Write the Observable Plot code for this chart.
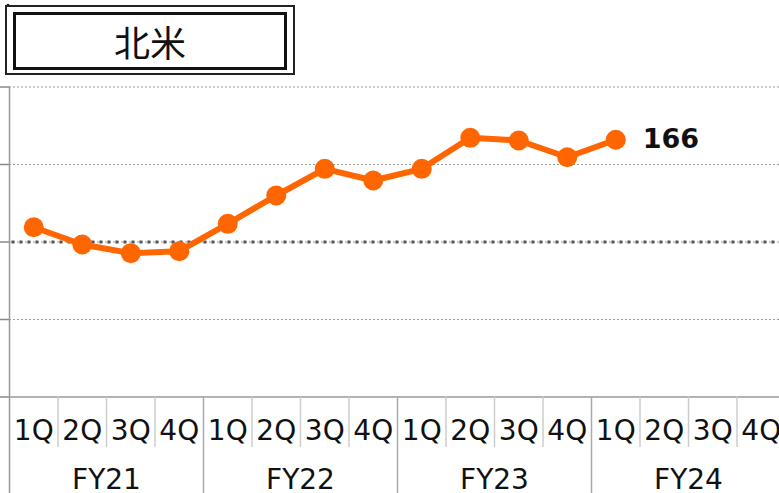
<!DOCTYPE html>
<html>
<head>
<meta charset="utf-8">
<script src="https://cdn.jsdelivr.net/npm/d3@7"></script>
<script src="https://cdn.jsdelivr.net/npm/@observablehq/plot@0.6"></script>
<style>
  html, body { margin: 0; padding: 0; background: #fff; }
  #wrap { position: relative; width: 779px; height: 493px; overflow: hidden; }
  #title { position: absolute; left: 5px; top: 5px; width: 290px; height: 70px; box-sizing: border-box;
           border: 2px solid #222; padding: 5px 6px 3px 6px; background: #fff; }
  #title .inner { box-sizing: border-box; width: 100%; height: 100%; border: 3px solid #111;
           display: flex; align-items: center; justify-content: center;
           font-family: "Noto Sans CJK JP", sans-serif; font-size: 36px; color: #111; }
  #chart { position: absolute; left: 0; top: 0; }
</style>
</head>
<body>
<div id="wrap">
  <div id="chart"></div>
  <div id="title"><div class="inner">北米</div></div>
</div>
<script>
const title = "北米";
const quarters = ["1Q","2Q","3Q","4Q","1Q","2Q","3Q","4Q","1Q","2Q","3Q","4Q","1Q","2Q","3Q","4Q"];
const years = ["FY21","FY22","FY23","FY24"];
const values = [109.5, 98.4, 92.8, 94.1, 111.7, 130, 147.2, 139.7, 147.2, 167.2, 165.5, 154.7, 166];
const lastLabel = "166";
const gridValues = [50, 150, 200];
const baseValue = 100;

const pts = values.map((v, i) => ({i: i + 0.5, v}));
const qLabels = quarters.map((q, i) => ({i: i + 0.5, q}));
const yLabels = years.map((y, k) => ({i: k * 4 + 2, y}));
const qSeps = d3.range(1, quarters.length).filter(i => i % 4 !== 0);
const ySeps = d3.range(0, quarters.length + 1, 4);

const chart = Plot.plot({
  width: 779,
  height: 493,
  marginTop: 86.5,
  marginBottom: 96.5,
  marginLeft: 9,
  marginRight: 0,
  x: {type: "linear", domain: [0, quarters.length], range: [9, 785], axis: null},
  y: {domain: [0, 200], axis: null},
  style: {fontFamily: "DejaVu Sans, Verdana, sans-serif", background: "#fff", overflow: "visible"},
  marks: [
    Plot.ruleY(gridValues, {stroke: "#999", strokeWidth: 1, strokeDasharray: "2,2"}),
    Plot.ruleY([baseValue], {stroke: "#999", strokeWidth: 1, strokeDasharray: "2,2"}),
    Plot.ruleY([baseValue], {x1: 0.05, x2: quarters.length, stroke: "#555", strokeWidth: 3, strokeDasharray: "3,5"}),
    Plot.axisY({ticks: [0, 50, 100, 150, 200], tickSize: 9, tickFormat: () => "", stroke: "#888", strokeWidth: 1.5}),
    Plot.ruleY([0], {stroke: "#999", strokeWidth: 1.5}),
    Plot.ruleX([0], {y1: 200, y2: -62.5, stroke: "#999", strokeWidth: 1.5}),
    Plot.ruleX(ySeps.filter(d => d > 0), {y1: 0, y2: -62.5, stroke: "#aaa", strokeWidth: 1.5}),
    Plot.ruleX(qSeps, {y1: 0, y2: -32.6, stroke: "#ccc", strokeWidth: 1.5}),
    Plot.text(qLabels, {x: "i", y: 0, text: "q", dy: 34, fontSize: 28, fill: "#111"}),
    Plot.text(yLabels, {x: "i", y: 0, text: "y", dy: 83, fontSize: 28, fill: "#111"}),
    Plot.line(pts, {x: "i", y: "v", stroke: "#FF6600", strokeWidth: 6, strokeLinejoin: "round"}),
    Plot.dot(pts, {x: "i", y: "v", r: 10, fill: "#FF6600"}),
    Plot.text([pts[pts.length - 1]], {x: "i", y: "v", text: () => lastLabel, dx: 27, textAnchor: "start",
      fontSize: 27, fontWeight: "bold", fill: "#111"})
  ]
});
document.getElementById("chart").appendChild(chart);
</script>
</body>
</html>
